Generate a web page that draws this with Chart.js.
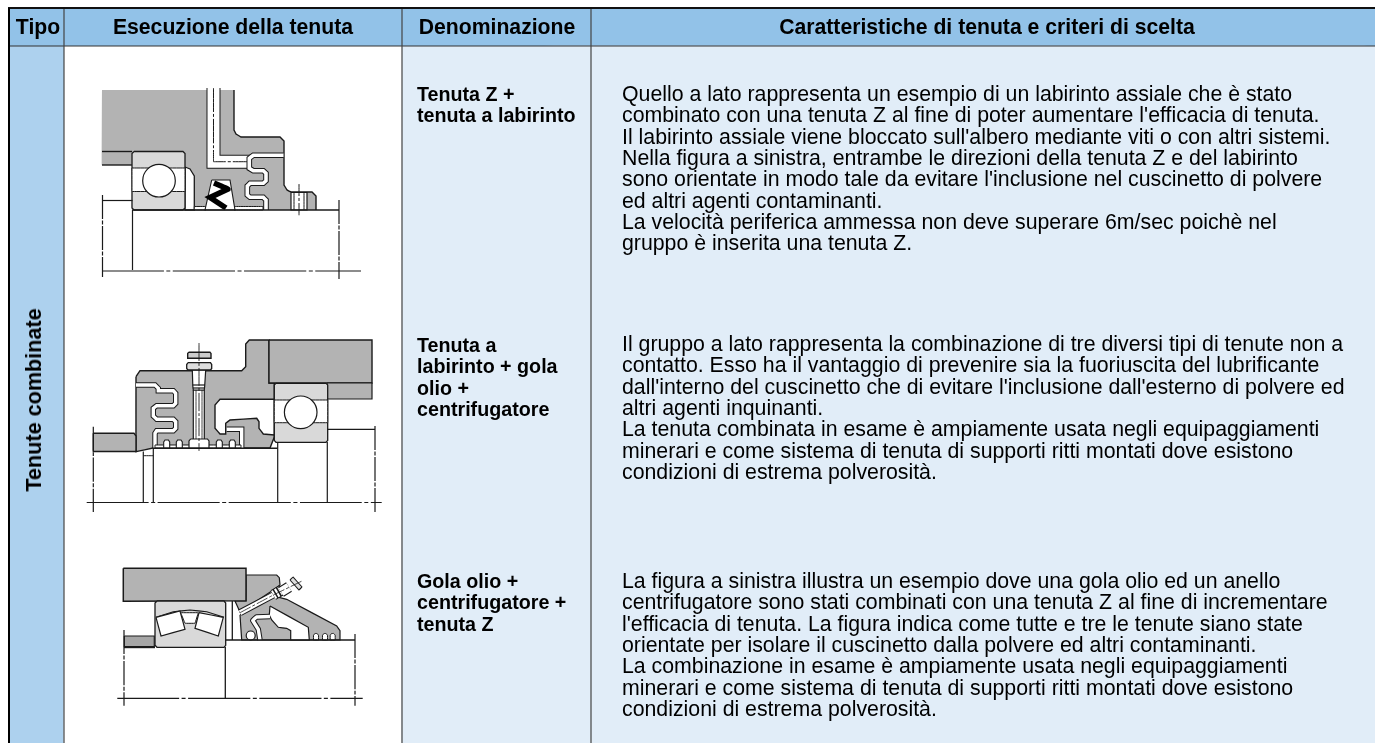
<!DOCTYPE html>
<html lang="it">
<head>
<meta charset="utf-8">
<title>Tenute combinate</title>
<script src="https://cdn.jsdelivr.net/npm/chart.js@4/dist/chart.umd.min.js"></script>
<style>
  html, body { margin: 0; padding: 0; background: #fff; overflow: hidden; }
  #wrap { position: relative; width: 1375px; height: 743px; font-family: "Liberation Sans", Arial, sans-serif; color: #000; }
  canvas { position: absolute; left: 0; top: 0; }
  .t { position: absolute; white-space: pre; }
  .head { font-weight: bold; font-size: 21.2px; }
  .side { font-weight: bold; font-size: 21.6px; }
  .name { font-weight: bold; font-size: 19.7px; }
  .body { font-size: 21.3px; }
</style>
</head>
<body>
<div id="wrap"><canvas id="myChart" width="1375" height="743"></canvas></div>
<script>
'use strict'

// ---------- text of the table ----------
const headers = ['Tipo', 'Esecuzione della tenuta', 'Denominazione', 'Caratteristiche di tenuta e criteri di scelta'];
const headerCentres = [38, 233, 497, 987];
const typeLabel = 'Tenute combinate';
const names1 = ['Tenuta Z +', 'tenuta a labirinto'];
const names2 = ['Tenuta a', 'labirinto + gola', 'olio +', 'centrifugatore'];
const names3 = ['Gola olio +', 'centrifugatore +', 'tenuta Z'];
const notes1 = [
  'Quello a lato rappresenta un esempio di un labirinto assiale che è stato',
  "combinato con una tenuta Z al fine di poter aumentare l'efficacia di tenuta.",
  "Il labirinto assiale viene bloccato sull'albero mediante viti o con altri sistemi.",
  'Nella figura a sinistra, entrambe le direzioni della tenuta Z e del labirinto',
  "sono orientate in modo tale da evitare l'inclusione nel cuscinetto di polvere",
  'ed altri agenti contaminanti.',
  'La velocità periferica ammessa non deve superare 6m/sec poichè nel',
  'gruppo è inserita una tenuta Z.'
];
const notes2 = [
  'Il gruppo a lato rappresenta la combinazione di tre diversi tipi di tenute non a',
  'contatto. Esso ha il vantaggio di prevenire sia la fuoriuscita del lubrificante',
  "dall'interno del cuscinetto che di evitare l'inclusione dall'esterno di polvere ed",
  'altri agenti inquinanti.',
  'La tenuta combinata in esame è ampiamente usata negli equipaggiamenti',
  'minerari e come sistema di tenuta di supporti ritti montati dove esistono',
  'condizioni di estrema polverosità.'
];
const notes3 = [
  'La figura a sinistra illustra un esempio dove una gola olio ed un anello',
  'centrifugatore sono stati combinati con una tenuta Z al fine di incrementare',
  "l'efficacia di tenuta. La figura indica come tutte e tre le tenute siano state",
  'orientate per isolare il cuscinetto dalla polvere ed altri contaminanti.',
  'La combinazione in esame è ampiamente usata negli equipaggiamenti',
  'minerari e come sistema di tenuta di supporti ritti montati dove esistono',
  'condizioni di estrema polverosità.'
];

// ---------- table cells and rules ----------
const cellHeader = [9,8, 1375,8, 1375,46, 9,46];
const cellType = [9,46, 64,46, 64,743, 9,743];
const cellNotes = [402,46, 1375,46, 1375,743, 402,743];
const ruleTop = [8,8, 1375,8];
const ruleHeader = [9,46, 1375,46];
const ruleLeft = [9,8, 9,743];
const ruleCols = [[64,8, 64,743], [402,8, 402,743], [591,8, 591,743]];

// ---------- first drawing: Z seal + labyrinth ----------
const d1Body = [102,90, 234,90, 234,130, 236,134, 241,137, 280,137, 284,141, 284,185, 287,190, 291,192, 312,192, 316,196, 316,210, 132,210, 132,165, 102,165];
const d1Edge = [234,90, 234,130, 236,134, 241,137, 280,137, 284,141, 284,185, 287,190, 291,192, 312,192, 316,196, 316,210];
const d1SeatTop = [102,151.5, 132,151.5];
const d1SeatLow = [102,165, 132,165];
const d1Slot = [213.5,88, 213.5,161.7, 250,161.7];
const d1SlotAxis = [213.5,88, 213.5,161.7, 248,161.7];
const d1Laby = [283.5,155.3, 253.3,155.3, 249.3,158.3, 249.3,168.3, 253.3,170.7, 263.3,170.7, 266,173.3, 266,180.7, 263.3,183.3, 250,183.3, 247.3,186, 247.3,195, 250,197.3, 263.3,197.3, 266,200, 266,210];
const d1Gap = [185,167, 190,169, 194.3,176, 194.3,210, 185,210];
const d1Foot1 = [194.3,206.5, 206,206.5, 206,210, 194.3,210];
const d1Foot2 = [234,206.5, 263,206.5, 263,210, 234,210];
const d1Hole = [291,192.5, 307,192.5, 307,210, 291,210];
const d1HoleBars = [[294,192.5, 294,210], [304,192.5, 304,210]];
const d1HoleAxis = [299,184, 299,216];
const d1Bearing = [134,151.5, 183,151.5, 185,153.5, 185,208, 183,210, 134,210, 132,208, 132,153.5];
const d1Race = [132,168, 185,168, 185,191.5, 132,191.5];
const d1Ball = [159, 180.7];
const d1Seal = [211.7,180, 230,180, 235,210, 205,210];
const d1Spring = [214,183, 228,189, 210,197.5, 226,208];
const d1Shaft = [132.5,210, 339,210];
const d1Inner = [132.5,210, 132.5,270];
const d1Stop = [102.5,200.5, 132.5,200.5];
const d1LeftEnd = [102.5,195, 102.5,277];
const d1RightEnd = [339,200, 339,279];
const d1Axis = [102,271, 361,271];

// ---------- second drawing: labyrinth + oil groove + flinger ----------
const d2Block = [269,340, 372,340, 372,383, 269,383];
const d2BlockLow = [327,383, 372,383, 372,399, 327,399];
const d2Cover = [136,376.7, 140,370.7, 241.7,370.7, 245.7,366.7, 245.7,344, 249.3,340, 269,340, 269,383, 274.3,383, 274.3,437, 270,448, 153,448, 136,451.7];
const d2Recess = [274.3,399.3, 220,399.3, 215,405, 215,428.3, 220,434, 225.7,434, 225.7,423.3, 230,420, 256.7,418.3, 259,421.7, 259,428.3, 263.3,434, 274.3,435];
const d2Stub = [93.3,433.3, 134,433.3, 136,436, 136,451.5, 93.3,451.5];
const d2Laby = [136,385, 155,385, 158.3,388.3, 158.3,390.7, 173.3,390.7, 175.7,393.3, 175.7,403.3, 173.3,405.7, 156.7,405.7, 153.3,408.3, 153.3,416, 156.7,419.3, 173.3,419.3, 175.7,421.7, 175.7,428.3, 173.3,430.7, 156.7,430.7, 155,433.3, 155,448];
const d2Slot = [226.7,429.3, 241.7,429.3, 241.7,448];
const d2Strip = [155,445, 241,445, 241,448, 155,448];
const d2Grooves = [
  [163.7,448, 163.7,442, 165,440, 168.4,440, 169.7,442, 169.7,448],
  [176.3,448, 176.3,442, 177.6,440, 181,440, 182.3,442, 182.3,448],
  [216.3,448, 216.3,442, 217.6,440, 221,440, 222.3,442, 222.3,448],
  [229.3,448, 229.3,442, 230.6,440, 234,440, 235.3,442, 235.3,448]
];
const d2BoltHead = [188.7,352.3, 210,352.3, 211,353.5, 211,358.3, 187.7,358.3, 187.7,353.5];
const d2BoltNut = [188,362.7, 210.5,362.7, 211.7,364.5, 211.7,368.5, 210.5,370, 188,370, 186.7,368.5, 186.7,364.5];
const d2BoltFit = [192.3,370, 205.7,370, 204.7,386, 204.3,390, 193.3,390, 192.8,386];
const d2BoltBand = [[192.6,385, 205,385], [192.8,388, 204.7,388]];
const d2BoltStem = [193.3,390, 204.3,390, 204.3,440, 193.3,440];
const d2BoltStemIn = [[196,390, 196,440], [202,390, 202,440]];
const d2BoltBase = [190.5,439, 207.5,439, 209,441, 209,448, 189,448, 189,441];
const d2BoltAxis = [199,343, 199,451];
const d2Bearing = [276,383.3, 326,383.3, 327.7,385, 327.7,440.5, 326,442.3, 276,442.3, 274.3,440.5, 274.3,385];
const d2Race = [274.3,400, 327.7,400, 327.7,422.7, 274.3,422.7];
const d2Ball = [300.7, 412.3];
const d2Shaft = [153,448.3, 277.7,448.3];
const d2Spacer = [[143.3,451.5, 143.3,503], [153.3,448.3, 153.3,503], [277.7,442, 277.7,503], [327.3,442, 327.3,503]];
const d2Rung = [143.3,455.7, 153.3,455.7];
const d2Stop = [327.3,429.3, 375,429.3];
const d2LeftEnd = [93.3,426.7, 93.3,512];
const d2RightEnd = [375,426,375,512];
const d2Axis = [86.7,502.5, 381.7,502.5];

// ---------- third drawing: oil groove + flinger + Z seal ----------
const d3Block = [123.3,568.3, 246,568.3, 246,600.7, 123.3,601.3];
const d3Cap = [246,575, 276.7,575, 279.3,577.7, 280,585, 273.3,590, 240,612, 235,601, 246,601];
const d3Cover = [240,615, 273.3,596, 286.7,599.3, 336.7,626, 340,630.7, 340,640, 241.7,640];
const d3Hollow = [270,606, 308.3,627.3, 309.3,640, 290.7,640, 290.7,630.7, 286.7,628.3, 278.3,627.3, 271.7,620, 269.3,615];
const d3Channel = [270,616.5, 256.7,617, 252.7,620.3, 258.3,629.3, 260,640];
const d3Stub = [124.3,636, 154.3,636, 154.3,646.7, 124.3,646.7];
const d3Pipe = [240,612.7, 273.3,595];
const d3PipeAxis = [240,612.7, 273.3,595, 302.7,580.7];
const d3Fitting = [273.3,595, 282,590];
const d3Nut = [281,592, 289,587];
const d3Head = [290,580, 293,577, 302,587, 299,590];
const d3Bearing = [157,601, 224,601, 225.7,603, 225.7,645.3, 224,647.3, 157,647.3, 155,645.3, 155,603];
const d3Arc = [156,617.3, 173.3,611.7, 190,610, 206.7,611.7, 224,617.3];
const d3RollerL = [156,617.3, 180,611, 185,629.3, 161,636];
const d3RollerR = [199,612.7, 223.3,617.3, 218.3,636, 195,628.3];
const d3Cage = [180.7,612.7, 198.3,612.7, 195,623.3, 185,623.3];
const d3Gap = [[232.3,601, 232.3,640]];
const d3Ring = [250.7, 635.5];
const d3Grooves = [
  [313.5,640, 313.5,635, 315,633.5, 317,633.5, 318.5,635, 318.5,640],
  [322.5,640, 322.5,635, 324,633.5, 326,633.5, 327.5,635, 327.5,640],
  [330.2,640, 330.2,635, 331.7,633.5, 333.7,633.5, 335.2,635, 335.2,640]
];
const d3Shaft = [225.7,640, 355,640];
const d3StubLow = [124,647.3, 155,647.3];
const d3Centre = [225.3,647, 225.3,698.3];
const d3LeftEnd = [124,630, 124,705.7];
const d3RightEnd = [355,634,355,705.7];
const d3Axis = [117.3,698.3, 362.7,698.3];

// ---------- helpers ----------
const allSets = [];
const INK = '#1a1a1a';
const STEEL = '#b3b3b3';
const RACE = '#d9d9d9';

function toPoints(flat) {
  let points = [];
  for (let i = 0; i < flat.length; i += 2) {
    points.push({x: flat[i], y: flat[i + 1]});
  }
  return points;
}

// closed filled polygon, outlined when width is given
function addShape(flat, color, width = 0, edge = INK) {
  const points = toPoints(flat);
  points.push(points[0]);
  allSets.push({data: points, showLine: true, fill: 'shape', backgroundColor: color, borderColor: edge, borderWidth: width, pointRadius: 0, tension: 0.001});
}

function addLine(flat, width = 1, dash = [], color = INK) {
  allSets.push({data: toPoints(flat), showLine: true, fill: false, borderColor: color, borderWidth: width, borderDash: dash, pointRadius: 0, tension: 0.001});
}

// white passage with a dark edge each side
function addChannel(flat, width) {
  addLine(flat, width + 2);
  addLine(flat, width, [], '#fff');
}

function addBall(pos, radius, color = '#fff') {
  allSets.push({data: toPoints(pos), showLine: false, pointRadius: radius, pointBackgroundColor: color, pointBorderColor: INK, pointBorderWidth: 1.2});
}

// ---------- building, back to front ----------
const AXIS_DASH = [62, 2.5, 4, 2.5];
const END_DASH = [24, 1.5, 4, 1.5];

addShape(cellHeader, '#92c2e8');
addShape(cellType, '#add1ee');
addShape(cellNotes, '#e1edf8');
addLine(ruleHeader, 1.2, [], '#333');
for (let rule of ruleCols) {
  addLine(rule, 1.2, [], '#444');
}
addLine(ruleTop, 2, [], '#111');
addLine(ruleLeft, 2, [], '#000');

// drawing 1
addShape(d1Body, STEEL);
addLine(d1Edge, 1.4);
addLine(d1SeatTop, 1.4);
addLine(d1SeatLow, 1.4);
addChannel(d1Slot, 12);
addLine(d1SlotAxis, 1, [24, 2, 3, 2]);
addShape(d1Gap, '#fff', 1.3);
addShape(d1Foot1, '#fff', 1);
addShape(d1Foot2, '#fff', 1);
addChannel(d1Laby, 3.6);
addShape(d1Hole, '#fff', 1.2);
for (let bar of d1HoleBars) {
  addLine(bar, 1);
}
addLine(d1HoleAxis, 1, [12, 2, 3, 2]);
addShape(d1Bearing, RACE, 1.3);
addShape(d1Race, '#fff', 1);
addBall(d1Ball, 16.3);
addShape(d1Seal, '#fff', 1.1);
addLine(d1Spring, 5.5, [], '#000');
addLine(d1Shaft, 1.4);
addLine(d1Inner, 1.2);
addLine(d1Stop, 1.2);
addLine(d1LeftEnd, 1.2, END_DASH);
addLine(d1RightEnd, 1.2, END_DASH);
addLine(d1Axis, 1.2, AXIS_DASH);

// drawing 2
addShape(d2Cover, STEEL, 1.4);
addShape(d2Block, STEEL, 1.4);
addShape(d2BlockLow, STEEL, 1.2);
addShape(d2Recess, '#fff', 1.4);
addShape(d2Stub, STEEL, 1.4);
addChannel(d2Laby, 3.4);
addChannel(d2Slot, 3.4);
addShape(d2Strip, '#fff', 1);
for (let groove of d2Grooves) {
  addShape(groove, '#fff', 1.1);
}
addShape(d2BoltStem, '#fff', 1.2);
for (let line of d2BoltStemIn) {
  addLine(line, 0.8);
}
addShape(d2BoltFit, '#fff', 1.2);
for (let band of d2BoltBand) {
  addLine(band, 1.2);
}
addShape(d2BoltNut, '#ddd', 1.3);
addShape(d2BoltHead, '#ccc', 1.4);
addShape(d2BoltBase, '#fff', 1.2);
addLine(d2BoltAxis, 0.9, [18, 2, 3, 2]);
addShape(d2Bearing, RACE, 1.3);
addShape(d2Race, '#fff', 1);
addBall(d2Ball, 16.3);
addLine(d2Shaft, 1.4);
for (let line of d2Spacer) {
  addLine(line, 1.2);
}
addLine(d2Rung, 1);
addLine(d2Stop, 1.2);
addLine(d2LeftEnd, 1.2, END_DASH);
addLine(d2RightEnd, 1.2, END_DASH);
addLine(d2Axis, 1.2, AXIS_DASH);

// drawing 3
addShape(d3Cap, STEEL, 1.2);
addShape(d3Cover, STEEL, 1.2);
addShape(d3Hollow, '#fff', 1.2);
addChannel(d3Channel, 3.4);
addShape(d3Block, STEEL, 1.5);
addShape(d3Stub, '#a6a6a6', 1.2);
addShape(d3Bearing, RACE, 1.3);
addLine(d3Arc, 1.1);
addShape(d3RollerL, '#fff', 1.2);
addShape(d3RollerR, '#fff', 1.2);
addShape(d3Cage, '#fff', 1);
addChannel(d3Pipe, 5);
addLine(d3Fitting, 11);
addLine(d3Fitting, 9, [2, 1.5], '#fff');
addChannel(d3Nut, 9);
addShape(d3Head, '#ddd', 1.1);
addLine(d3PipeAxis, 0.8, [12, 2, 3, 2]);
for (let line of d3Gap) {
  addLine(line, 1.3);
}
addBall(d3Ring, 4.5);
for (let groove of d3Grooves) {
  addShape(groove, '#fff', 1);
}
addLine(d3Shaft, 1.4);
addLine(d3StubLow, 1.8);
addLine(d3Centre, 1.3);
addLine(d3LeftEnd, 1.2, END_DASH);
addLine(d3RightEnd, 1.2, END_DASH);
addLine(d3Axis, 1.2, AXIS_DASH);

// lowest order is painted last, so later sets land on top
allSets.forEach((set, i) => {
  set.order = allSets.length - i;
  set.clip = false;
});

const myChart = new Chart(document.getElementById('myChart'), {
  type: 'scatter',
  data: {datasets: allSets},
  options: {
    responsive: false,
    animation: false,
    events: [],
    devicePixelRatio: 1,
    layout: {padding: 0, autoPadding: false},
    plugins: {legend: {display: false}, tooltip: {enabled: false}},
    scales: {
      x: {type: 'linear', display: false, min: 0, max: 1375},
      y: {type: 'linear', display: false, min: 0, max: 743, reverse: true}
    }
  }
});

// ---------- text goes on top as plain elements ----------
const wrap = document.getElementById('wrap');

function putText(str, cls, x, y, centred) {
  const el = document.createElement('div');
  el.className = 't ' + cls;
  el.textContent = str;
  el.style.left = x + 'px';
  el.style.top = y + 'px';
  el.style.lineHeight = '20px';
  if (centred) {
    el.style.transform = 'translateX(-50%)';
  }
  wrap.appendChild(el);
  return el;
}

function putBlock(lines, cls, x, centreY) {
  lines.forEach((str, i) => putText(str, cls, x, centreY + i * 21.33 - 10));
}

headers.forEach((str, i) => putText(str, 'head', headerCentres[i], 17, true));
putBlock(names1, 'name', 417, 94);
putBlock(names2, 'name', 417, 345);
putBlock(names3, 'name', 417, 581);
putBlock(notes1, 'body', 622, 94);
putBlock(notes2, 'body', 622, 344);
putBlock(notes3, 'body', 622, 581);

const side = putText(typeLabel, 'side', 34, 399.5, true);
side.style.transform = 'translate(-50%, -50%) rotate(-90deg)';
</script>
</body>
</html>
